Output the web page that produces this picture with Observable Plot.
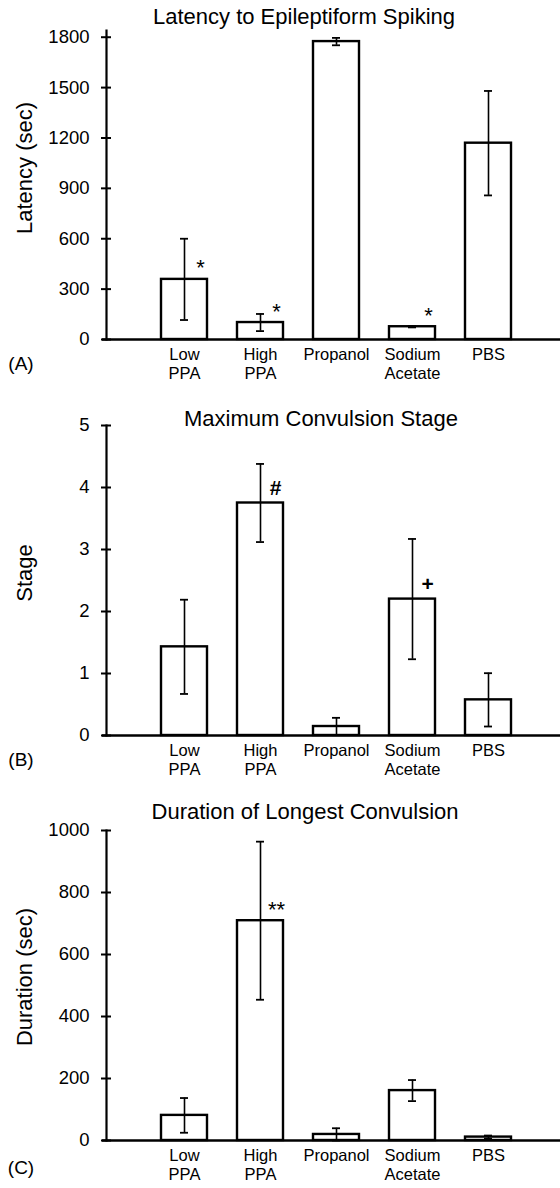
<!DOCTYPE html>
<html><head><meta charset="utf-8">
<script src="https://cdn.jsdelivr.net/npm/d3@7"></script>
<script src="https://cdn.jsdelivr.net/npm/@observablehq/plot@0.6"></script>
<style>
body{margin:0;background:#fff;}
#root{position:relative;width:560px;height:1188px;font-family:"Liberation Sans",Arial,sans-serif;color:#000;overflow:hidden;background:#fff}
.panel{position:absolute;left:0;width:560px}
.panel svg{display:block}
.title{position:absolute;white-space:nowrap;transform:translate(-50%,-50%);font-size:22px}
.ylab{position:absolute;white-space:nowrap;transform:translate(-50%,-50%) rotate(-90deg);font-size:22px}
.tag{position:absolute;white-space:nowrap;transform:translate(-50%,-50%);font-size:19px}
</style></head><body><div id="root"></div>
<script>
// ---- data ----
const categories = ["Low PPA", "High PPA", "Propanol", "Sodium Acetate", "PBS"];
const tickLabels = ["Low\nPPA", "High\nPPA", "Propanol", "Sodium\nAcetate", "PBS"];

const latencyMean = [358, 101, 1774, 76, 1169];
const latencyErr = [242, 51, 22, 4, 311];
const latencyMarks = ["*", "*", "", "*", ""];
const latencyTicks = [0, 300, 600, 900, 1200, 1500, 1800];

const stageMean = [1.43, 3.75, 0.145, 2.2, 0.575];
const stageErr = [0.76, 0.63, 0.14, 0.97, 0.43];
const stageMarks = ["", "#", "", "+", ""];
const stageTicks = [0, 1, 2, 3, 4, 5];

const durationMean = [81, 709, 19.5, 161, 11];
const durationErr = [56, 255, 20, 34, 5];
const durationMarks = ["", "**", "", "", ""];
const durationTicks = [0, 200, 400, 600, 800, 1000];

const FONT = '"Liberation Sans", Arial, sans-serif';
const root = document.getElementById("root");

function panel(cfg) {
  const data = categories.map((c, i) => ({
    c, m: cfg.mean[i],
    lo: Math.max(0, cfg.mean[i] - cfg.err[i]),
    hi: cfg.mean[i] + cfg.err[i],
    mark: cfg.marks[i]
  }));
  const div = document.createElement("div");
  div.className = "panel";
  div.style.top = cfg.top + "px";
  div.style.height = cfg.height + "px";
  const svg = Plot.plot({
    width: 560,
    height: cfg.height,
    marginLeft: 106,
    marginRight: 0,
    marginTop: cfg.marginTop,
    marginBottom: cfg.height - cfg.frameBottom,
    style: {fontFamily: FONT, color: "black", background: "white", overflow: "visible"},
    x: {domain: categories, range: [130, 541], padding: 0.395, label: null},
    y: {domain: [0, cfg.domainMax], label: null},
    marks: [
      Plot.frame({anchor: "left", strokeWidth: 2.2}),
      Plot.axisY(cfg.ticks, {tickSize: 10, dx: 5, strokeWidth: 2, tickFormat: () => ""}),
      Plot.axisY(cfg.ticks, {tickSize: 0, tickPadding: 17, fontSize: 18.5, tickFormat: (d) => String(d), label: null}),
      Plot.axisX({tickSize: 0, tickPadding: 6, fontSize: 16.5, lineHeight: 1.2,
        tickFormat: (d) => tickLabels[categories.indexOf(d)], label: null}),
      Plot.barY(data, {x: "c", y: "m", fill: "white", stroke: "black", strokeWidth: 2.4}),
      Plot.ruleX(data, {x: "c", y1: "lo", y2: "hi", strokeWidth: 1.6}),
      Plot.tickY(data, {x: "c", y: "hi", insetLeft: 19, insetRight: 19, strokeWidth: 1.8}),
      Plot.tickY(data, {x: "c", y: "lo", insetLeft: 19, insetRight: 19, strokeWidth: 1.8}),
      Plot.ruleY([0], {insetLeft: -4, strokeWidth: 2.6}),
      Plot.text(data.filter((d) => d.mark === "*" || d.mark === "**"),
        {x: "c", y: "m", text: "mark", dx: 16, dy: -11, fontSize: 22}),
      Plot.text(data.filter((d) => d.mark === "#" || d.mark === "+"),
        {x: "c", y: "m", text: "mark", dx: 15, dy: -15, fontSize: 21, fontWeight: "bold"})
    ]
  });
  div.appendChild(svg);
  const t = document.createElement("div");
  t.className = "title"; t.textContent = cfg.title;
  t.style.left = cfg.titleX + "px"; t.style.top = cfg.titleY + "px";
  div.appendChild(t);
  const yl = document.createElement("div");
  yl.className = "ylab"; yl.textContent = cfg.ylabel;
  yl.style.left = "25px"; yl.style.top = cfg.ylabelY + "px";
  div.appendChild(yl);
  const tg = document.createElement("div");
  tg.className = "tag"; tg.textContent = cfg.tag;
  tg.style.left = "21px"; tg.style.top = cfg.tagY + "px";
  div.appendChild(tg);
  root.appendChild(div);
}

panel({top: 0, height: 395, marginTop: 30, frameBottom: 339, domainMax: 1840,
  mean: latencyMean, err: latencyErr, marks: latencyMarks, ticks: latencyTicks,
  title: "Latency to Epileptiform Spiking", titleX: 304, titleY: 17,
  ylabel: "Latency (sec)", ylabelY: 168, tag: "(A)", tagY: 364});

panel({top: 395, height: 395, marginTop: 30, frameBottom: 340, domainMax: 5,
  mean: stageMean, err: stageErr, marks: stageMarks, ticks: stageTicks,
  title: "Maximum Convulsion Stage", titleX: 321, titleY: 24,
  ylabel: "Stage", ylabelY: 178, tag: "(B)", tagY: 365});

panel({top: 790, height: 398, marginTop: 40, frameBottom: 350, domainMax: 1000,
  mean: durationMean, err: durationErr, marks: durationMarks, ticks: durationTicks,
  title: "Duration of Longest Convulsion", titleX: 305, titleY: 22,
  ylabel: "Duration (sec)", ylabelY: 187, tag: "(C)", tagY: 378});
</script>
</body></html>
